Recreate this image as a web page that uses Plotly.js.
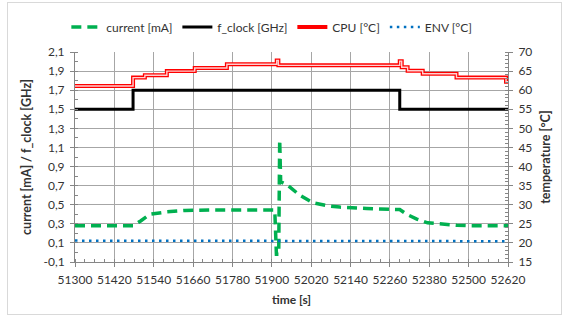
<!DOCTYPE html>
<html>
<head>
<meta charset="utf-8">
<script src="https://cdn.plot.ly/plotly-3.0.1.min.js"></script>
<style>
  html, body { margin: 0; padding: 0; background: #ffffff; }
  #frame { position: absolute; left: 7px; top: 2px; width: 555px; height: 313px; border: 1px solid #d9d9d9; box-sizing: border-box; }
  #chart { position: absolute; left: 0; top: 0; width: 564px; height: 320px; }
</style>
</head>
<body>
<div id="frame"></div>
<div id="chart"></div>
<script>
// ---- data ----
var currentTime = [51300, 51477, 51500, 51528, 51580, 51635, 51711, 51800, 51909, 51914, 51921, 51924, 51927, 51946, 51985, 52025, 52068, 52107, 52147, 52189, 52229, 52290, 52311, 52342, 52375, 52421, 52464, 52503, 52620];
var currentMA   = [0.28, 0.28, 0.33, 0.40, 0.425, 0.44, 0.445, 0.445, 0.445, -0.02, -0.02, 1.18, 0.74, 0.71, 0.60, 0.52, 0.49, 0.475, 0.465, 0.46, 0.455, 0.45, 0.40, 0.35, 0.31, 0.295, 0.285, 0.28, 0.28];

var clockTime = [51300, 51477, 52290, 52620];
var clockGHz  = [1.5, 1.7, 1.5, 1.5];

var cpuTime = [51300, 51477, 51513, 51580, 51665, 51763, 51915, 51920, 52290, 52296, 52314, 52360, 52463, 52614, 52620];
var cpuC    = [61.1, 63.3, 63.9, 65.0, 65.8, 66.8, 67.8, 66.5, 67.6, 66.0, 65.1, 64.3, 63.3, 62.2, 62.2];

var envTime = [51300, 51700, 52100, 52620];
var envC    = [20.6, 20.55, 20.5, 20.45];

var leftTickVals  = [-0.1, 0.1, 0.3, 0.5, 0.7, 0.9, 1.1, 1.3, 1.5, 1.7, 1.9, 2.1];
var leftTickText  = ['-0,1', '0,1', '0,3', '0,5', '0,7', '0,9', '1,1', '1,3', '1,5', '1,7', '1,9', '2,1'];

var FONT = 'Lato, "Open Sans", sans-serif';
var GRID = '#a6a6a6';
var AXIS = '#868686';
var TXT = '#333333';

var traces = [
  {x: currentTime, y: currentMA, name: 'current [mA]', type: 'scatter', mode: 'lines',
   line: {color: '#00b050', width: 3.5, dash: '10px,6px'}, yaxis: 'y'},
  {x: clockTime, y: clockGHz, name: 'f_clock [GHz]', type: 'scatter', mode: 'lines',
   line: {color: '#000000', width: 3, shape: 'hv'}, yaxis: 'y'},
  {x: cpuTime, y: cpuC, name: 'CPU [°C]', type: 'scatter', mode: 'lines', legendgroup: 'cpu',
   line: {color: '#ff0000', width: 4, shape: 'hv'}, yaxis: 'y2'},
  {x: cpuTime, y: cpuC, name: 'CPU [°C]', type: 'scatter', mode: 'lines', legendgroup: 'cpu', showlegend: false,
   line: {color: '#ffd0d0', width: 1.4, shape: 'hv'}, yaxis: 'y2', hoverinfo: 'skip'},
  {x: envTime, y: envC, name: 'ENV [°C]', type: 'scatter', mode: 'lines',
   line: {color: '#0070c0', width: 2.5, dash: '2.5px,4.5px'}, yaxis: 'y2'}
];

var layout = {
  width: 564, height: 320,
  margin: {l: 75, r: 56, t: 47, b: 58, pad: 0},
  paper_bgcolor: 'rgba(0,0,0,0)', plot_bgcolor: 'rgba(0,0,0,0)',
  font: {family: FONT, size: 12, color: TXT},
  showlegend: true,
  legend: {orientation: 'h', x: -0.02, xanchor: 'left', y: 1.05, yanchor: 'bottom',
           font: {family: FONT, size: 12, color: TXT}, bgcolor: 'rgba(0,0,0,0)', traceorder: 'normal'},
  xaxis: {
    range: [51300, 52620], tickmode: 'linear', tick0: 51300, dtick: 120, tickformat: 'd',
    showgrid: true, gridcolor: GRID, gridwidth: 1, zeroline: false,
    showline: true, linecolor: AXIS, linewidth: 1,
    ticks: 'outside', ticklen: 4, tickcolor: AXIS, ticklabelstandoff: 3,
    minor: {tick0: 51300, dtick: 30, ticks: 'inside', ticklen: 3, tickcolor: AXIS, showgrid: false},
    tickfont: {family: FONT, size: 12, color: TXT},
    title: {text: '<b>time [s]</b>', font: {family: FONT, size: 12, color: TXT}, standoff: 9},
    automargin: false
  },
  yaxis: {
    range: [-0.1, 2.1], tickmode: 'array', tickvals: leftTickVals, ticktext: leftTickText,
    showgrid: true, gridcolor: GRID, gridwidth: 1, zeroline: false,
    showline: true, linecolor: AXIS, linewidth: 1,
    ticks: 'outside', ticklen: 4, tickcolor: AXIS, ticklabelstandoff: 3,
    minor: {tickmode: 'linear', tick0: -0.1, dtick: 0.1, ticks: 'inside', ticklen: 3, tickcolor: AXIS, showgrid: false},
    tickfont: {family: FONT, size: 12, color: TXT},
    title: {text: '<b>current [mA] / f_clock [GHz]</b>', font: {family: FONT, size: 12.5, color: TXT}, standoff: 9},
    automargin: false
  },
  yaxis2: {
    range: [15, 70], tickmode: 'linear', tick0: 15, dtick: 5, tickformat: 'd',
    overlaying: 'y', side: 'right', showgrid: false, zeroline: false,
    showline: true, linecolor: AXIS, linewidth: 1,
    ticks: 'outside', ticklen: 4, tickcolor: AXIS, ticklabelstandoff: 3,
    minor: {tick0: 15, dtick: 1, ticks: 'inside', ticklen: 3, tickcolor: AXIS, showgrid: false},
    tickfont: {family: FONT, size: 12, color: TXT},
    title: {text: '<b>temperature [°C]</b>', font: {family: FONT, size: 12.5, color: TXT}, standoff: 9},
    automargin: false
  }
};

Plotly.newPlot('chart', traces, layout, {staticPlot: true, displayModeBar: false});
</script>
</body>
</html>
